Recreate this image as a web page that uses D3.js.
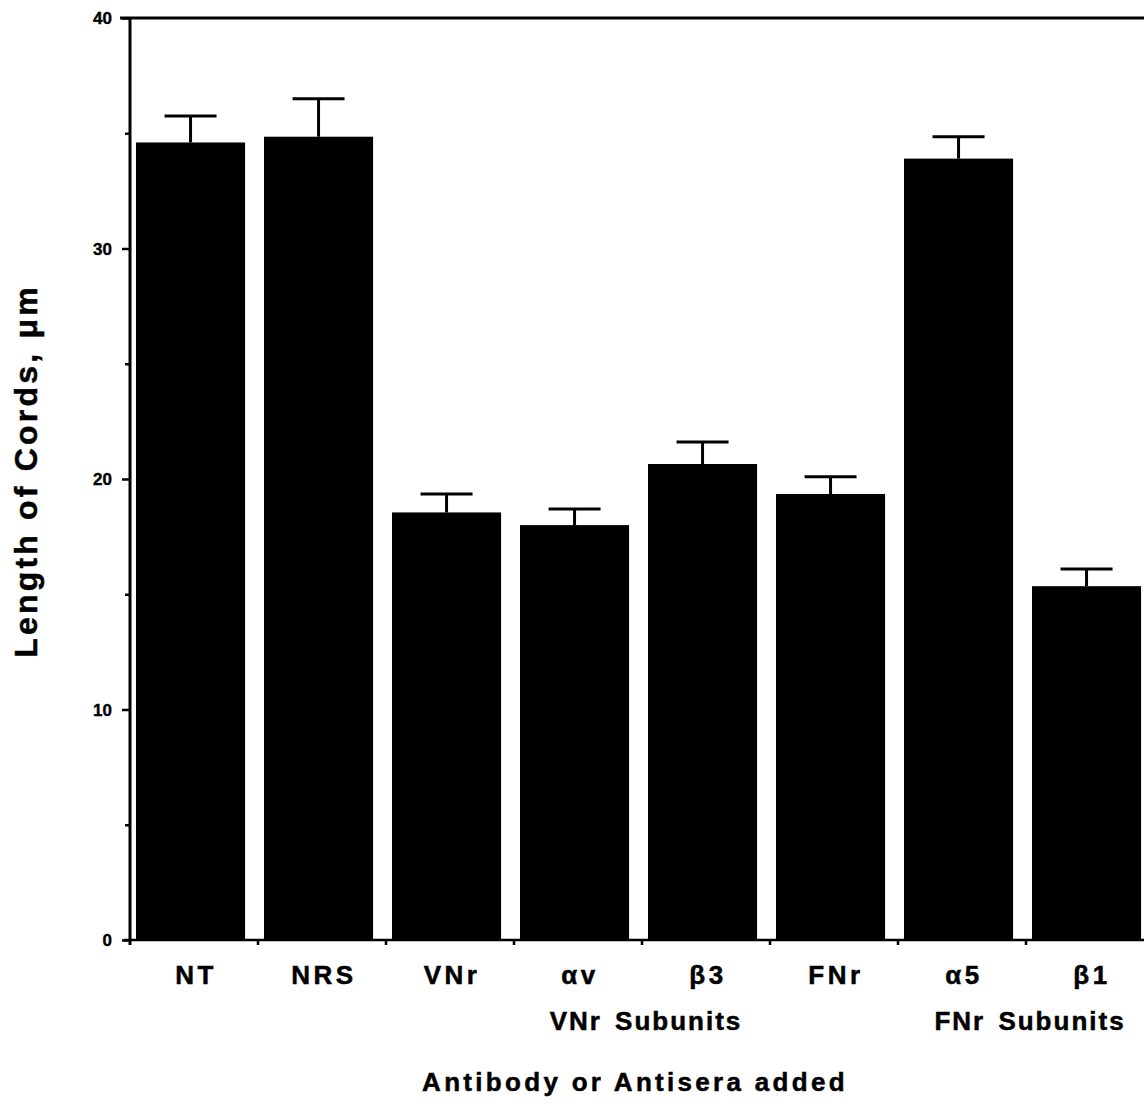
<!DOCTYPE html>
<html>
<head>
<meta charset="utf-8">
<script src="https://cdn.jsdelivr.net/npm/d3@7"></script>
<style>
  html, body { margin: 0; padding: 0; background: #fff; }
  svg { display: block; }
  text { font-family: "Liberation Sans", Arial, Helvetica, sans-serif; font-weight: bold; fill: #000; stroke: #000; stroke-width: 0.5px; }
</style>
</head>
<body>
<svg id="chart" width="1144" height="1120"></svg>
<script>
// ---- data ----
const categories = ["NT", "NRS", "VNr", "αv", "β3", "FNr", "α5", "β1"];
const means      = [34.6, 34.85, 18.55, 18.0, 20.65, 19.35, 33.9, 15.35];
const errors     = [1.15, 1.65, 0.8, 0.7, 0.95, 0.75, 0.95, 0.75];
const yTicks     = [0, 10, 20, 30, 40];
const yMinorTicks = [5, 15, 25, 35];
const groupLabels = [
  { text: "VNr Subunits", at: "β3" },
  { text: "FNr Subunits", at: "β1" }
];
const yTitle = "Length of Cords,  μm";
const xTitle = "Antibody or Antisera added";

// ---- layout ----
const svg = d3.select("#chart");
const x = d3.scaleBand().domain(categories).range([130, 1154]).paddingInner(0).paddingOuter(0);
const y = d3.scaleLinear().domain([0, 40]).range([940, 18]);
const bw = x.bandwidth();
const barOff = bw * 0.047;
const barW = bw * 0.852;

// bars
svg.append("g").selectAll("rect")
  .data(categories)
  .join("rect")
  .attr("x", d => x(d) + barOff)
  .attr("width", barW)
  .attr("y", (d, i) => y(means[i]))
  .attr("height", (d, i) => y(0) - y(means[i]))
  .attr("fill", "#000");

// error bars
const eb = svg.append("g").attr("stroke", "#000").attr("stroke-width", 3);
categories.forEach((c, i) => {
  const cx = x(c) + barOff + barW / 2;
  eb.append("line").attr("x1", cx).attr("x2", cx)
    .attr("y1", y(means[i])).attr("y2", y(means[i] + errors[i]));
  eb.append("line").attr("x1", cx - 26).attr("x2", cx + 26)
    .attr("y1", y(means[i] + errors[i])).attr("y2", y(means[i] + errors[i]));
});

// y axis
const yAxis = d3.axisLeft(y).tickValues(yTicks).tickSize(8).tickPadding(10);
const gy = svg.append("g").attr("transform", "translate(130,0)").call(yAxis);
gy.select(".domain").remove();
gy.selectAll(".tick line").attr("stroke", "#000").attr("stroke-width", 2.5);
gy.selectAll(".tick text").style("font-size", "17px").style("stroke-width", "0.4px").attr("dy", "0.35em");
const gyMinor = d3.axisLeft(y).tickValues(yMinorTicks).tickSize(5).tickFormat("");
const gm = svg.append("g").attr("transform", "translate(130,0)").call(gyMinor);
gm.select(".domain").remove();
gm.selectAll(".tick line").attr("stroke", "#000").attr("stroke-width", 2.5);
svg.append("line").attr("x1", 130).attr("x2", 130).attr("y1", y(40)).attr("y2", y(0) + 5)
  .attr("stroke", "#000").attr("stroke-width", 3);

// top frame line
svg.append("line").attr("x1", 120).attr("x2", 1144).attr("y1", y(40)).attr("y2", y(40))
  .attr("stroke", "#000").attr("stroke-width", 3);

// x axis
svg.append("line").attr("x1", 124).attr("x2", 1144).attr("y1", y(0)).attr("y2", y(0))
  .attr("stroke", "#000").attr("stroke-width", 2.5);
svg.append("g").selectAll("line")
  .data(categories.slice(1))
  .join("line")
  .attr("x1", d => x(d)).attr("x2", d => x(d))
  .attr("y1", y(0)).attr("y2", y(0) + 5)
  .attr("stroke", "#000").attr("stroke-width", 2.5);

// category labels
svg.append("g").selectAll("text")
  .data(categories)
  .join("text")
  .attr("x", d => x(d) + bw / 2 + 2)
  .attr("y", 984)
  .attr("text-anchor", "middle")
  .style("font-size", "26px")
  .style("letter-spacing", "3.5px")
  .text(d => d);

// group labels
svg.append("g").selectAll("text")
  .data(groupLabels)
  .join("text")
  .attr("x", d => x(d.at) + 4)
  .attr("y", 1030)
  .attr("text-anchor", "middle")
  .style("font-size", "26px")
  .style("letter-spacing", "2px")
  .style("word-spacing", "4px")
  .text(d => d.text);

// axis titles
svg.append("text")
  .attr("x", 635).attr("y", 1091)
  .attr("text-anchor", "middle")
  .style("font-size", "26px")
  .style("letter-spacing", "3.3px")
  .text(xTitle);

svg.append("text")
  .attr("transform", "translate(37,471) rotate(-90)")
  .attr("text-anchor", "middle")
  .style("font-size", "32px")
  .style("letter-spacing", "3.2px")
  .text(yTitle);
</script>
</body>
</html>
